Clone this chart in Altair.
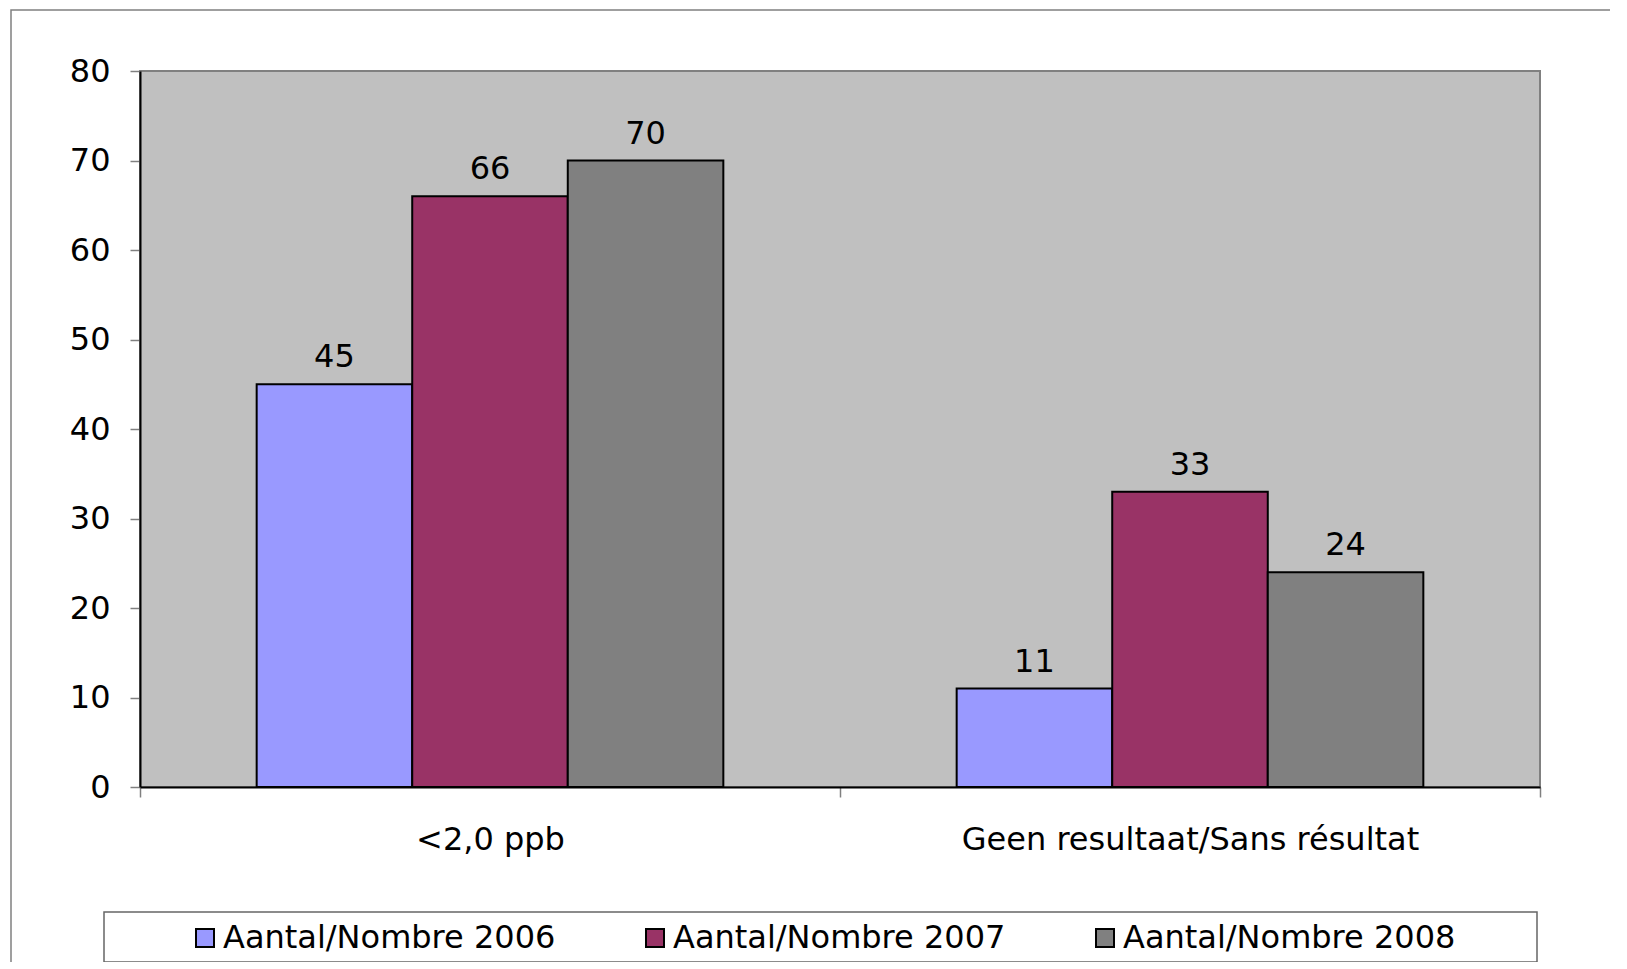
import altair as alt
import pandas as pd

categories = ["<2,0 ppb", "Geen resultaat/Sans résultat"]
series = ["Aantal/Nombre 2006", "Aantal/Nombre 2007", "Aantal/Nombre 2008"]
values_2006 = [45, 11]
values_2007 = [66, 33]
values_2008 = [70, 24]
colors = ["#9999FF", "#993366", "#808080"]
y_ticks = [0, 10, 20, 30, 40, 50, 60, 70, 80]

rows = []
for i, c in enumerate(categories):
    for s, vals in zip(series, [values_2006, values_2007, values_2008]):
        rows.append({"cat": c, "series": s, "value": vals[i]})
df = pd.DataFrame(rows)

FONT = "DejaVu Sans"
FS = 32
W, H = 1400, 716

x_enc = alt.X(
    "cat:N", sort=categories,
    scale=alt.Scale(paddingInner=0, paddingOuter=0),
    axis=alt.Axis(title=None, labelAngle=0, tickBand="extent", tickSize=10,
                  tickColor="#808080", tickWidth=1.5, domainColor="black",
                  domainWidth=2, labelFontSize=FS, labelFont=FONT,
                  labelColor="black", labelPadding=27, labelLimit=0),
)
xo_enc = alt.XOffset("series:N", sort=series,
                     scale=alt.Scale(paddingInner=0, paddingOuter=0.75))
y_enc = alt.Y(
    "value:Q", scale=alt.Scale(domain=[0, 80], nice=False),
    axis=alt.Axis(title=None, values=y_ticks, tickSize=10, tickColor="#808080",
                  tickWidth=1.5, domainColor="black", domainWidth=2, grid=False,
                  labelFontSize=FS, labelFont=FONT, labelColor="black",
                  labelPadding=20),
)

base = alt.Chart(df)

bars = base.mark_bar(stroke="black", strokeWidth=2).encode(
    x=x_enc, xOffset=xo_enc, y=y_enc,
    color=alt.Color(
        "series:N", sort=series,
        scale=alt.Scale(domain=series, range=colors),
        legend=alt.Legend(
            title=None, orient="none", legendX=49, legendY=851,
            direction="horizontal", symbolType="square", symbolSize=324,
            symbolStrokeColor="black", symbolStrokeWidth=2,
            labelFontSize=FS, labelFont=FONT, labelColor="black",
            labelOffset=2, labelLimit=0, columnPadding=83, padding=0,
        ),
    ),
)

labels = base.mark_text(baseline="alphabetic", dy=-17, fontSize=FS,
                        font=FONT, color="black").encode(
    x=alt.X("cat:N", sort=categories), xOffset=xo_enc,
    y=alt.Y("value:Q"), text=alt.Text("value:Q"),
)

frame_df = pd.DataFrame({"k": [0]})
outer = alt.Chart(frame_df).mark_rect(fillOpacity=0, stroke="#808080",
                                      strokeWidth=1.5).encode(
    x=alt.value(-129), x2=alt.value(W + 200),
    y=alt.value(-61), y2=alt.value(H + 300),
)
legend_box = alt.Chart(frame_df).mark_rect(fillOpacity=0, stroke="#666666",
                                           strokeWidth=1.5).encode(
    x=alt.value(-36), x2=alt.value(1397),
    y=alt.value(841), y2=alt.value(891),
)

chart = alt.layer(outer, bars, labels, legend_box).properties(
    width=W, height=H,
    autosize=alt.AutoSizeParams(type="none"),
    padding={"left": 132, "top": 63, "right": 70, "bottom": 175},
).configure(
    background="white",
).configure_view(
    fill="#C0C0C0", stroke="#808080", strokeWidth=2,
)

chart.save("out.html", embed_options={"renderer": "svg", "actions": False})
